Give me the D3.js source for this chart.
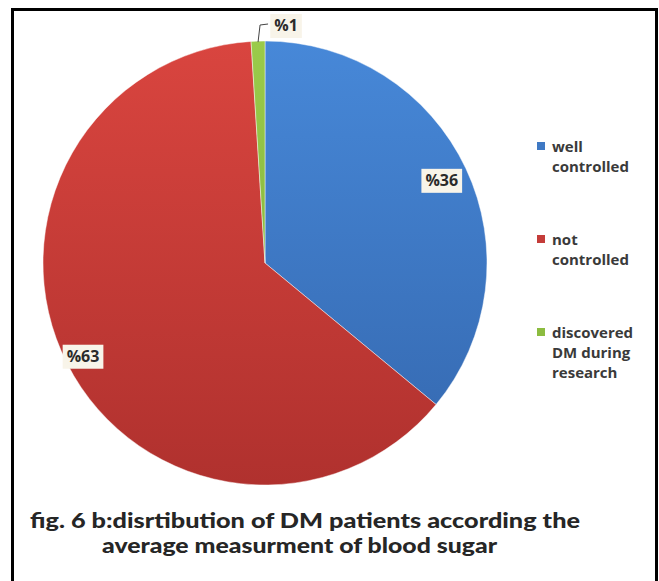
<!DOCTYPE html>
<html>
<head>
<meta charset="utf-8">
<script src="https://cdn.jsdelivr.net/npm/d3@7"></script>
<style>
  html, body { margin: 0; padding: 0; background: #fff; }
  svg { display: block; }
</style>
</head>
<body>
<svg id="chart" width="659" height="581"></svg>
<script>
// Distribution of DM patients by average blood sugar measurement
const categories = ["well\ncontrolled", "not\ncontrolled", "discovered\nDM during\nresearch"];
const values = [36, 63, 1];
const valueLabels = ["%36", "%63", "%1"];
const titleLines = [
  "fig. 6 b:disrtibution of DM patients according the",
  "average measurment of blood sugar"
];

const colorsTop = ["#4788d8", "#d9453f", "#9acb4a"];
const colorsBottom = ["#3467ae", "#b0312e", "#7aa838"];
const legendColors = ["#3f79c4", "#c43c39", "#8cbc40"];

const svg = d3.select("#chart");
const W = 659, H = 581;

svg.append("rect").attr("width", W).attr("height", H).attr("fill", "#fff");

// frame
svg.append("rect")
  .attr("x", 12.5).attr("y", 9.5)
  .attr("width", 644).attr("height", H + 10)
  .attr("fill", "none").attr("stroke", "#000").attr("stroke-width", 3);

const cx = 265, cy = 263, R = 222;

const defs = svg.append("defs");
values.forEach((v, i) => {
  const g = defs.append("linearGradient")
    .attr("id", "grad" + i)
    .attr("gradientUnits", "userSpaceOnUse")
    .attr("x1", 0).attr("y1", -R).attr("x2", 0).attr("y2", R);
  g.append("stop").attr("offset", "0%").attr("stop-color", colorsTop[i]);
  g.append("stop").attr("offset", "100%").attr("stop-color", colorsBottom[i]);
});

const pie = d3.pie().sort(null).value(d => d)
  .startAngle(0).endAngle(2 * Math.PI);
const arcs = pie(values);
const arc = d3.arc().innerRadius(0).outerRadius(R);

const g = svg.append("g").attr("transform", `translate(${cx},${cy})`);

g.selectAll("path.slice")
  .data(arcs)
  .join("path")
  .attr("class", "slice")
  .attr("d", arc)
  .attr("fill", (d, i) => `url(#grad${i})`)
  .attr("stroke", "rgba(255,255,255,0.45)")
  .attr("stroke-width", 1);

// value labels
const labelFont = "'Open Sans', 'Lato', sans-serif";

function drawLabel(x, y, text) {
  const lg = svg.append("g");
  const t = lg.append("text")
    .attr("x", x).attr("y", y)
    .attr("text-anchor", "middle")
    .attr("dominant-baseline", "central")
    .attr("font-family", labelFont)
    .attr("font-weight", "bold")
    .attr("font-size", 16)
    .attr("fill", "#2b2b2b")
    .text(text);
  const bb = t.node().getBBox();
  lg.insert("rect", "text")
    .attr("x", bb.x - 4).attr("y", bb.y)
    .attr("width", bb.width + 8).attr("height", bb.height + 2)
    .attr("fill", "#f8f4e9");
}

const inside = [0.88, 0.92];
[0, 1].forEach(i => {
  const a = (arcs[i].startAngle + arcs[i].endAngle) / 2;
  const r = R * inside[i];
  drawLabel(cx + r * Math.sin(a), cy - r * Math.cos(a), valueLabels[i]);
});

// small slice label with leader line
{
  const a = (arcs[2].startAngle + arcs[2].endAngle) / 2;
  const sx = cx + (R - 1) * Math.sin(a), sy = cy - (R - 1) * Math.cos(a);
  const ly = 25;
  drawLabel(sx + 28, ly, valueLabels[2]);
  svg.append("path")
    .attr("d", `M${sx},${sy} L${sx + 2},${ly} L${sx + 10},${ly - 1}`)
    .attr("fill", "none").attr("stroke", "#444").attr("stroke-width", 1);
}

// legend
const legendFont = "'Open Sans', 'Lato', sans-serif";
const legendY = [152, 245, 338];
categories.forEach((c, i) => {
  const y0 = legendY[i];
  svg.append("rect")
    .attr("x", 537).attr("y", y0 - 10)
    .attr("width", 8).attr("height", 8)
    .attr("fill", legendColors[i]);
  c.split("\n").forEach((line, j) => {
    svg.append("text")
      .attr("x", 552).attr("y", y0 + j * 20)
      .attr("font-family", legendFont)
      .attr("font-weight", "bold")
      .attr("font-size", 15)
      .attr("fill", "#3a3a3a")
      .text(line);
  });
});

// caption
const titleFont = "'Lato', 'Open Sans', sans-serif";
const titleWidths = [550, 395];
const titleX = [30, 102];
const titleY = [528, 553];
titleLines.forEach((line, i) => {
  svg.append("text")
    .attr("x", titleX[i]).attr("y", titleY[i])
    .attr("font-family", titleFont)
    .attr("font-weight", 900)
    .attr("font-size", 21)
    .attr("fill", "#262626")
    .attr("textLength", titleWidths[i])
    .attr("lengthAdjust", "spacingAndGlyphs")
    .text(line);
});
</script>
</body>
</html>
